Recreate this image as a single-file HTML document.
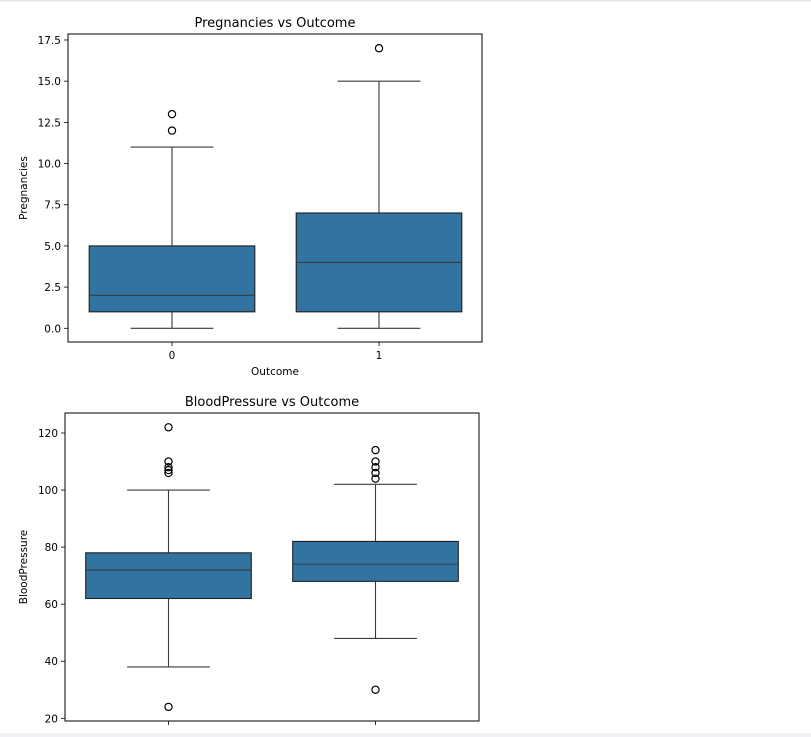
<!DOCTYPE html>
<html><head><meta charset="utf-8"><style>
body{margin:0;background:#fff;}
svg{display:block;font-family:"DejaVu Sans","Liberation Sans",sans-serif;}
</style></head><body>
<svg id="c" width="811" height="737">
<rect x="0" y="0" width="811" height="1.5" fill="#e8e8e8"/>
<rect x="0" y="733" width="811" height="4" fill="#f0f2f5"/>
</svg>
<script>
const categories = ["0","1"];
const pregStats = [[0,1,2,5,11],[0,1,4,7,15]];
const pregOutliers = [[12,13],[17]];
const pregTicks = [0,2.5,5,7.5,10,12.5,15,17.5];
const bpStats = [[38,62,72,78,100],[48,68,74,82,102]];
const bpOutliers = [[24,106,107,108,110,122],[30,104,106,108,110,114]];
const bpTicks = [20,40,60,80,100,120];

const svg = document.getElementById('c');
const NS = 'http://www.w3.org/2000/svg';
function mk(tag, attrs, parent){const e=document.createElementNS(NS,tag);for(const k in attrs)e.setAttribute(k,attrs[k]);(parent||svg).appendChild(e);return e;}

function chart(cfg){
  const g = mk('g',{});
  
  
  const yS = v => cfg.y0px + (v - cfg.v0) * (cfg.y1px - cfg.y0px) / (cfg.v1 - cfg.v0);
  const xS = i => cfg.x0 + cfg.step * i;
  const bw = cfg.step * 0.8;
  cfg.ticks.forEach(t=>{
    const y=yS(t);
    const l=mk('line',{x1:cfg.fl-4,x2:cfg.fl,y1:y,y2:y,stroke:'#000','stroke-width':0.8},g);
    
    
    const tx=mk('text',{x:cfg.fl-7,y:y+4,'text-anchor':'end','font-size':10.5,fill:'#000'},g);
    tx.textContent=cfg.fmt(t);
    
    
  });
  cfg.stats.forEach((s,i)=>{
    const cx=xS(i);
    const ww=bw/2;
    const w1=mk('line',{x1:cx,x2:cx,y1:yS(s[0]),y2:yS(s[1]),stroke:'#3a3a3a','stroke-width':1.1},g);
    
    
    const w2=mk('line',{x1:cx,x2:cx,y1:yS(s[3]),y2:yS(s[4]),stroke:'#3a3a3a','stroke-width':1.1},g);
    
    
    [s[0],s[4]].forEach(v=>{
      const c=mk('line',{x1:cx-ww/2,x2:cx+ww/2,y1:yS(v),y2:yS(v),stroke:'#3a3a3a','stroke-width':1.1},g);
      
      
    });
    const b=mk('rect',{x:cx-bw/2,y:yS(s[3]),width:bw,height:yS(s[1])-yS(s[3]),fill:'#3274a1',stroke:'#1f1f1f','stroke-width':1.1},g);
    
    
    const m=mk('line',{x1:cx-bw/2,x2:cx+bw/2,y1:yS(s[2]),y2:yS(s[2]),stroke:'#3a3a3a','stroke-width':1.1},g);
    
    
    cfg.outliers[i].forEach(v=>{
      const o=mk('circle',{cx:cx,cy:yS(v),r:3.6,fill:'none',stroke:'#000','stroke-width':1.2},g);
      
      
    });
    const xt=mk('line',{x1:cx,x2:cx,y1:cfg.fb,y2:cfg.fb+4,stroke:'#000','stroke-width':0.8},g);
    
    
    if(cfg.xlabels){
      const t=mk('text',{x:cx,y:cfg.fb+17,'text-anchor':'middle','font-size':10.5},g);
      t.textContent=categories[i];
      
      
    }
  });
  const f=mk('rect',{x:cfg.fl,y:cfg.ft,width:cfg.fr-cfg.fl,height:cfg.fb-cfg.ft,fill:'none',stroke:'#000','stroke-width':1},g);
  
  
  const ti=mk('text',{x:(cfg.fl+cfg.fr)/2,y:cfg.ft-7,'text-anchor':'middle','font-size':13},g);
  ti.textContent=cfg.title;
  
  
  const my=(cfg.ft+cfg.fb)/2;
  const yl=mk('text',{x:27,y:my,'text-anchor':'middle','font-size':10.5,transform:`rotate(-90 27 ${my})`},g);
  yl.textContent=cfg.ylabel;
  
  
  if(cfg.xlabels){
    const xl=mk('text',{x:(cfg.fl+cfg.fr)/2,y:cfg.fb+33,'text-anchor':'middle','font-size':10.5},g);
    xl.textContent='Outcome';
    
    
  }
}
chart({name:'pregnancies-chart',title:'Pregnancies vs Outcome',ylabel:'Pregnancies',stats:pregStats,outliers:pregOutliers,ticks:pregTicks,
  fmt:t=>t.toFixed(1),v0:0,v1:17.5,y0px:328.3,y1px:40,fl:68,fr:482,ft:34,fb:342,x0:172,step:207,xlabels:true});
chart({name:'bloodpressure-chart',title:'BloodPressure vs Outcome',ylabel:'BloodPressure',stats:bpStats,outliers:bpOutliers,ticks:bpTicks,
  fmt:t=>String(t),v0:20,v1:120,y0px:718.3,y1px:433,fl:65,fr:479,ft:413,fb:721,x0:168.5,step:207,xlabels:false});
</script>
</body></html>
